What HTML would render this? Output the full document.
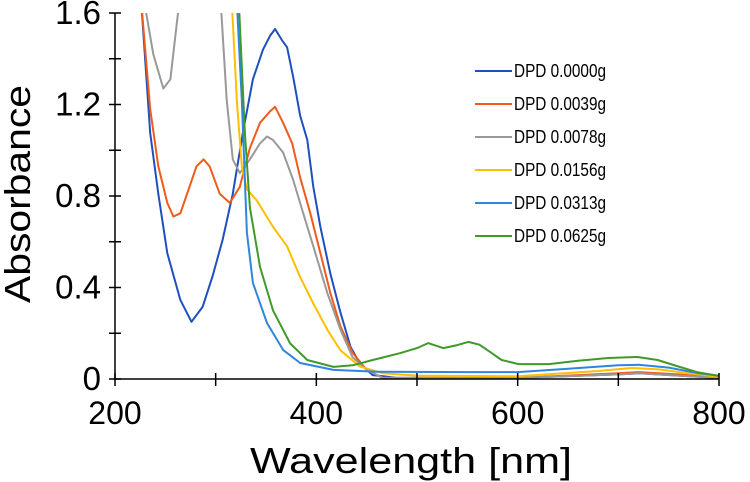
<!DOCTYPE html>
<html><head><meta charset="utf-8"><style>
html,body{margin:0;padding:0;background:#fff;}
svg{display:block;font-family:"Liberation Sans",sans-serif;}
</style></head><body>
<svg id="chart" width="750" height="482" viewBox="0 0 750 482" xmlns="http://www.w3.org/2000/svg">
<defs><clipPath id="plotclip"><rect x="115" y="13" width="606" height="368"/></clipPath></defs>
<g id="series" clip-path="url(#plotclip)"></g>
<g id="axes"></g>
<g id="legend"></g>
<text transform="translate(30,194) rotate(-90)" text-anchor="middle" font-size="36" textLength="218" lengthAdjust="spacingAndGlyphs">Absorbance</text>
<text x="411" y="473" text-anchor="middle" font-size="36" textLength="322" lengthAdjust="spacingAndGlyphs">Wavelength [nm]</text>
</svg>
<script>
const xTicks = [200, 400, 600, 800];
const xMinorTicks = [300, 500, 700];
const yTicks = [0, 0.4, 0.8, 1.2, 1.6];
const yTickLabels = ["0", "0.4", "0.8", "1.2", "1.6"];
const yMinorTicks = [0.2, 0.6, 1.0, 1.4];
const seriesNames = ["DPD 0.0000g","DPD 0.0039g","DPD 0.0078g","DPD 0.0156g","DPD 0.0313g","DPD 0.0625g"];
const seriesColors = ["#1f4fbf","#f05a1a","#999999","#ffbf00","#2e86de","#3f9a2a"];
const wl0000 = [226,235,243,252,265,276,287,297,307,317,327,337,347,354,359,366,371,377,384,391,397,404,414,424,434,443,456,480,600,700,720,760,800];
const ab0000 = [1.65,1.075,0.81,0.55,0.345,0.25,0.315,0.45,0.61,0.81,1.075,1.31,1.44,1.50,1.53,1.48,1.45,1.32,1.15,1.045,0.84,0.665,0.46,0.29,0.14,0.07,0.017,0.005,0.005,0.02,0.025,0.015,0.005];
const wl0039 = [226,235,243,252,258,265,274,281,288,294,304,314,324,334,344,354,359,367,376,384,394,404,414,424,436,450,466,600,700,720,760,800];
const ab0039 = [1.65,1.18,0.93,0.77,0.71,0.725,0.84,0.93,0.96,0.93,0.81,0.77,0.84,1.01,1.12,1.17,1.19,1.12,1.03,0.88,0.725,0.55,0.375,0.23,0.115,0.04,0.005,0.005,0.025,0.03,0.02,0.005];
const wl0078 = [229,238,248,255,261,264,305,311,317,324,334,344,351,357,367,377,387,397,411,424,436,450,466,600,700,720,760,800];
const ab0078 = [1.65,1.42,1.27,1.31,1.54,1.65,1.65,1.22,0.96,0.90,0.96,1.03,1.06,1.045,0.99,0.87,0.725,0.58,0.375,0.215,0.095,0.04,0.005,0.005,0.02,0.025,0.015,0.005];
const wl0156 = [316,321,326,331,341,357,371,384,397,411,424,443,466,500,600,680,713,740,770,800];
const ab0156 = [1.65,1.22,0.93,0.83,0.78,0.665,0.58,0.445,0.33,0.215,0.125,0.055,0.025,0.015,0.012,0.035,0.048,0.042,0.025,0.01];
const wl0313 = [321,326,331,337,351,367,384,417,460,550,600,650,700,720,750,780,800];
const ab0313 = [1.65,1.22,0.64,0.42,0.245,0.127,0.07,0.04,0.032,0.03,0.03,0.045,0.06,0.062,0.05,0.025,0.015];
const wl0625 = [323,329,334,344,357,374,391,417,436,456,483,500,511,526,540,551,562,572,584,601,631,660,690,719,739,758,778,800];
const ab0625 = [1.65,1.075,0.75,0.49,0.30,0.155,0.083,0.053,0.06,0.083,0.113,0.135,0.157,0.135,0.148,0.162,0.15,0.12,0.083,0.065,0.065,0.08,0.092,0.096,0.083,0.057,0.03,0.013];
const wlSets = [wl0000, wl0039, wl0078, wl0156, wl0313, wl0625];
const abSets = [ab0000, ab0039, ab0078, ab0156, ab0313, ab0625];

const NS = "http://www.w3.org/2000/svg";
function xScale(w){ return 115 + (w - 200) * (604 / 600); }
function yScale(v){ return 379 - v * (366 / 1.6); }
function mk(tag, attrs, parent){ const e = document.createElementNS(NS, tag); for (const k in attrs) e.setAttribute(k, attrs[k]); parent.appendChild(e); return e; }

const seriesG = document.getElementById("series");
wlSets.forEach((wl, i) => {
  const pts = wl.map((w, j) => xScale(w).toFixed(1) + "," + yScale(abSets[i][j]).toFixed(1)).join(" ");
  const pl = mk("polyline", {points: pts, fill: "none", stroke: seriesColors[i], "stroke-width": 2, "stroke-linejoin": "round"}, seriesG);
  
  
});

const axes = document.getElementById("axes");
const xa = mk("line", {x1: 115, y1: 379, x2: 719, y2: 379, stroke: "#000", "stroke-width": 1.5}, axes);


const ya = mk("line", {x1: 115, y1: 13, x2: 115, y2: 379, stroke: "#000", "stroke-width": 1.5}, axes);


xTicks.concat(xMinorTicks).forEach(t => {
  const tk = mk("line", {x1: xScale(t), y1: 373, x2: xScale(t), y2: 386, stroke: "#000", "stroke-width": 1.5}, axes);
  
  
});
xTicks.forEach(t => {
  const tx = mk("text", {x: xScale(t), y: 424, "text-anchor": "middle", "font-size": 32}, axes);
  tx.textContent = String(t);
  
  
});
yTicks.concat(yMinorTicks).forEach(t => {
  const tk = mk("line", {x1: 109, y1: yScale(t), x2: 121, y2: yScale(t), stroke: "#000", "stroke-width": 1.5}, axes);
  
  
});
yTicks.forEach((t, i) => {
  const tx = mk("text", {x: 101, y: yScale(t) + 11, "text-anchor": "end", "font-size": 33}, axes);
  tx.textContent = yTickLabels[i];
  
  
});

const legend = document.getElementById("legend");
seriesNames.forEach((n, i) => {
  const y = 71 + i * 33;
  const g = mk("g", {}, legend);
  
  
  mk("line", {x1: 475, y1: y, x2: 512, y2: y, stroke: seriesColors[i], "stroke-width": 2}, g);
  const tx = mk("text", {x: 514, y: y + 6, "font-size": 18, textLength: 92, lengthAdjust: "spacingAndGlyphs"}, g);
  tx.textContent = n;
});
</script>
</body></html>
